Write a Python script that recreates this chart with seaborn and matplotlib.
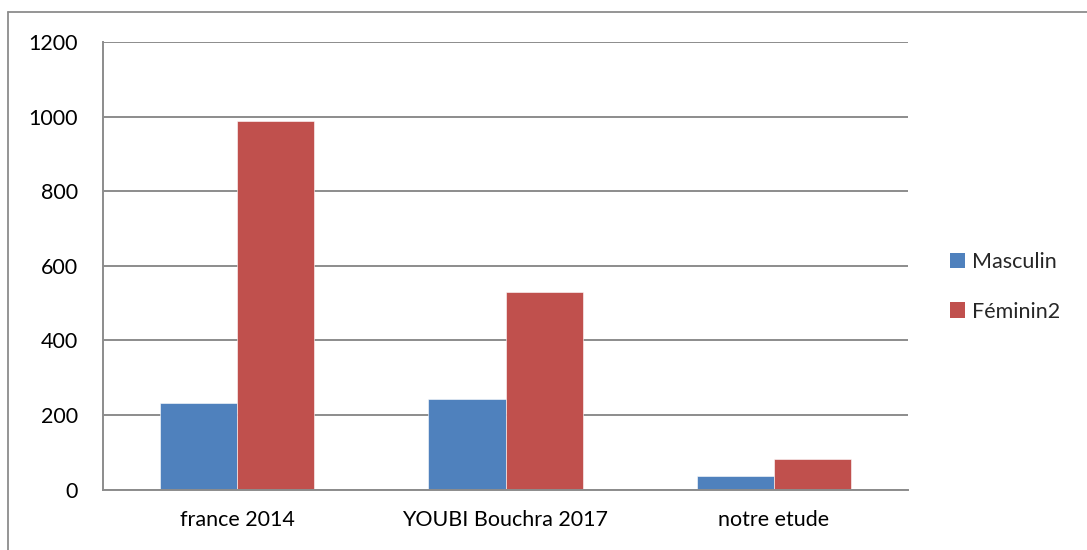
import matplotlib
matplotlib.use("Agg")
import matplotlib.pyplot as plt
import pandas as pd
import seaborn as sns
from matplotlib.patches import Patch
from matplotlib.lines import Line2D

# ---- données ----
etudes = ["france 2014", "YOUBI Bouchra 2017", "notre etude"]
masculin = [232, 244, 36]
feminin = [989, 530, 82]
series = ["Masculin", "Féminin2"]
couleurs = ["#4F81BD", "#C0504D"]

df = pd.DataFrame({
    "etude": etudes * 2,
    "valeur": masculin + feminin,
    "sexe": [series[0]] * 3 + [series[1]] * 3,
})

sns.set_theme(style="white")
plt.rcParams["font.family"] = ["Lato", "DejaVu Sans"]

fig = plt.figure(figsize=(10.87, 5.5), dpi=100)
ax = fig.add_axes([103 / 1087, 1 - 489.5 / 550, (908 - 103) / 1087, (489.5 - 42) / 550])

sns.barplot(data=df, x="etude", y="valeur", hue="sexe", order=etudes,
            hue_order=series, palette=couleurs, width=0.575, gap=0,
            saturation=1, edgecolor="white", linewidth=0.4, ax=ax, legend=False)

ax.set_ylim(0, 1200)
ax.set_xlim(-0.5, 2.5)
ax.set_yticks(range(0, 1201, 200))
ax.yaxis.grid(True, color="#8c8c8c", linewidth=1.4)
ax.set_axisbelow(True)
for s in ["top", "right"]:
    ax.spines[s].set_visible(False)
for s in ["left", "bottom"]:
    ax.spines[s].set_color("#8c8c8c")
    ax.spines[s].set_linewidth(1.4)
ax.set_xlabel("")
ax.set_ylabel("")
ax.tick_params(axis="y", length=0, pad=18, labelsize=15.5, colors="black")
ax.tick_params(axis="x", length=0, pad=15, labelsize=15.5, colors="black")

handles = [Patch(facecolor=c, edgecolor="none") for c in couleurs]
fig.legend(handles, series, loc="center left", bbox_to_anchor=(931 / 1087, 1 - 287 / 550),
           frameon=False, fontsize=15.5, handlelength=0.7, handleheight=0.7,
           handletextpad=0.3, labelspacing=1.35)

# cadre de la figure (haut et gauche)
fig.add_artist(Line2D([8 / 1087, 1], [1 - 12 / 550, 1 - 12 / 550], color="#8c8c8c", lw=1.3))
fig.add_artist(Line2D([8 / 1087, 8 / 1087], [0, 1 - 12 / 550], color="#8c8c8c", lw=1.3))

fig.savefig("out.png", dpi=100)
